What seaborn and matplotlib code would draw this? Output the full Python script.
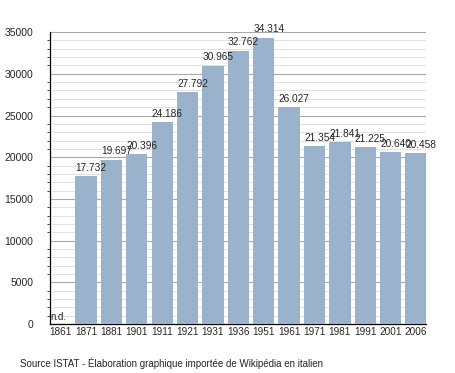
import matplotlib
matplotlib.use("Agg")
import matplotlib.pyplot as plt
from matplotlib.ticker import MultipleLocator
import seaborn as sns
import pandas as pd

# Daten
jahre = ["1861", "1871", "1881", "1901", "1911", "1921", "1931", "1936",
         "1951", "1961", "1971", "1981", "1991", "2001", "2006"]
einwohner = [0, 17732, 19697, 20396, 24186, 27792, 30965, 32762,
             34314, 26027, 21354, 21841, 21225, 20640, 20458]
quelle = "Source ISTAT - Élaboration graphique importée de Wikipédia en italien"

df = pd.DataFrame({"jahr": jahre, "einwohner": einwohner})

sns.set_style("white")
plt.rcParams["font.family"] = ["Liberation Sans", "DejaVu Sans"]

fig = plt.figure(figsize=(4.55, 3.73), dpi=100)
ax = fig.add_axes([0.110, 0.131, 0.826, 0.783])

sns.barplot(data=df, x="jahr", y="einwohner", order=jahre, color="#9ab2cc",
            saturation=1, width=0.84, linewidth=0, ax=ax, zorder=3)

ax.set_ylim(0, 35000)
ax.set_xlim(-0.42, 14.39)
ax.yaxis.set_major_locator(MultipleLocator(5000))
ax.yaxis.set_minor_locator(MultipleLocator(1000))
ax.grid(which="major", axis="y", color="#a8a8a8", linewidth=0.8, zorder=0)
ax.grid(which="minor", axis="y", color="#dcdcdc", linewidth=0.6, zorder=0)
ax.set_axisbelow(True)

for s in ["top", "right"]:
    ax.spines[s].set_visible(False)
for s in ["left", "bottom"]:
    ax.spines[s].set_color("black")
    ax.spines[s].set_linewidth(0.9)

ax.tick_params(axis="y", which="major", length=4, width=0.8, labelsize=7.5, pad=8)
ax.tick_params(axis="y", which="minor", length=2, width=0.6, left=True)
ax.tick_params(axis="x", length=0, labelsize=7.2, pad=2)
ax.set_xlabel("")
ax.set_ylabel("")

# Beschriftung der Balken
for i, (j, v) in enumerate(zip(jahre, einwohner)):
    if v == 0:
        ax.text(i - 0.40, 300, "n.d.", fontsize=7, ha="left", va="bottom", zorder=5)
    else:
        txt = f"{v:,}".replace(",", ".")
        ax.text(i - 0.415, v + 400, txt, fontsize=7.3, ha="left", va="bottom", zorder=5)

fig.text(20 / 455, 1 - 363 / 373, quelle, fontsize=7, ha="left", va="center")

fig.savefig("out.png", dpi=100)
